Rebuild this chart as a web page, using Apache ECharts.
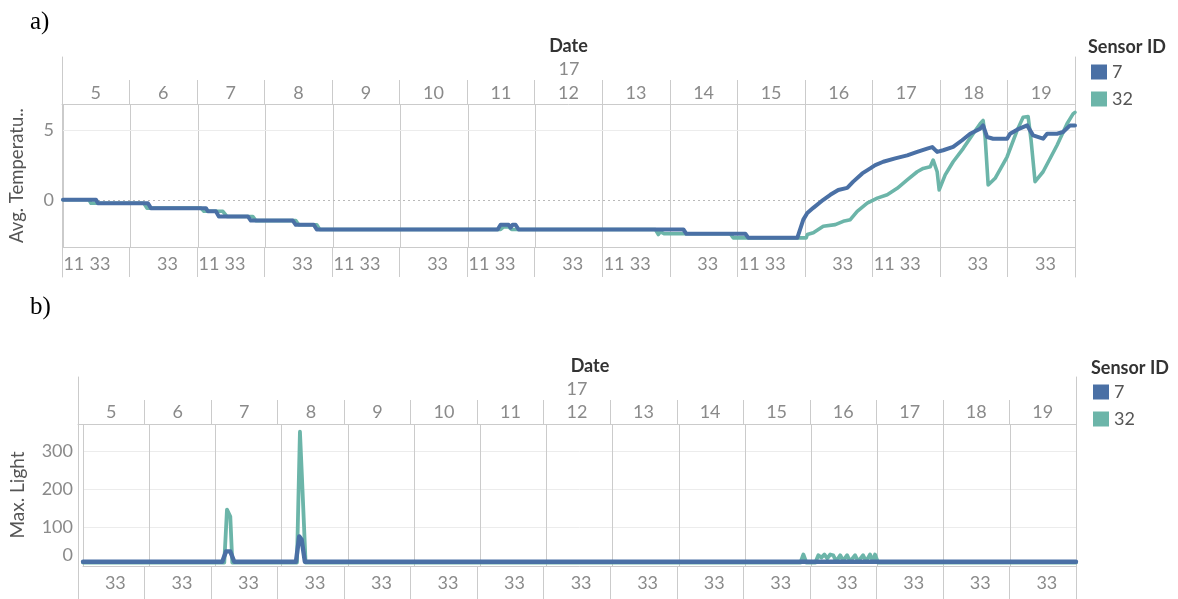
<!DOCTYPE html>
<html>
<head>
<meta charset="utf-8">
<title>Sensor 7 vs 32</title>
<script src="https://cdn.jsdelivr.net/npm/echarts@6/dist/echarts.min.js"></script>
<style>
  html, body { margin: 0; padding: 0; background: #ffffff; }
  #chart { width: 1178px; height: 599px; }
</style>
</head>
<body>
<div id="chart"></div>
<script>
// ---- data -------------------------------------------------------------
const dayLabels = ['5', '6', '7', '8', '9', '10', '11', '12', '13', '14', '15', '16', '17', '18', '19'];
const sensorIds = ['7', '32'];

// x = day position (day N spans N .. N+1)
const tempSensor7 = [
  [5.000, 0], [5.489, 0], [5.518, -0.25], [6.259, -0.25], [6.303, -0.6], [7.118, -0.6],
  [7.147, -0.83], [7.266, -0.83], [7.310, -1.2], [7.740, -1.2], [7.784, -1.5], [8.406, -1.5],
  [8.450, -1.8], [8.717, -1.8], [8.761, -2.14], [11.442, -2.14], [11.486, -1.8], [11.605, -1.8],
  [11.634, -2.0], [11.664, -1.8], [11.708, -1.8], [11.753, -2.14], [14.196, -2.14], [14.240, -2.45],
  [15.114, -2.45], [15.158, -2.74], [15.884, -2.74], [15.973, -1.43], [16.032, -0.95], [16.121, -0.58],
  [16.269, 0], [16.373, 0.36], [16.491, 0.71], [16.624, 0.86], [16.713, 1.31], [16.847, 1.9],
  [16.965, 2.26], [17.039, 2.5], [17.158, 2.74], [17.335, 2.98], [17.513, 3.2], [17.661, 3.45],
  [17.809, 3.69], [17.883, 3.8], [17.957, 3.45], [18.046, 3.57], [18.194, 3.81], [18.327, 4.29],
  [18.446, 4.76], [18.594, 5.12], [18.638, 5.36], [18.698, 4.52], [18.786, 4.4], [18.994, 4.4],
  [19.038, 4.76], [19.142, 5.05], [19.290, 5.36], [19.379, 4.64], [19.527, 4.4], [19.586, 4.76],
  [19.734, 4.76], [19.823, 4.88], [19.927, 5.36], [20.000, 5.36]
];
const tempSensor32 = [
  [5.000, 0], [5.385, 0], [5.415, -0.25], [6.199, -0.25], [6.244, -0.6], [7.044, -0.6],
  [7.088, -0.83], [7.369, -0.83], [7.429, -1.2], [7.814, -1.2], [7.858, -1.5], [8.450, -1.5],
  [8.495, -1.8], [8.761, -1.8], [8.806, -2.14], [11.486, -2.14], [11.530, -1.95], [11.605, -1.95],
  [11.649, -2.14], [13.781, -2.14], [13.825, -2.5], [13.855, -2.3], [13.915, -2.45], [14.892, -2.45],
  [14.936, -2.74], [16.017, -2.74], [16.032, -2.5], [16.121, -2.38], [16.269, -1.9], [16.447, -1.79],
  [16.565, -1.55], [16.669, -1.43], [16.772, -0.83], [16.920, -0.24], [17.069, 0.12], [17.217, 0.36],
  [17.365, 0.83], [17.513, 1.43], [17.661, 2.02], [17.750, 2.26], [17.854, 2.38], [17.898, 2.86],
  [17.957, 2.02], [17.987, 0.71], [18.076, 1.79], [18.194, 2.74], [18.342, 3.69], [18.490, 4.76],
  [18.594, 5.48], [18.638, 5.71], [18.668, 4.52], [18.713, 1.07], [18.816, 1.55], [18.994, 3.1],
  [19.142, 5.0], [19.231, 5.95], [19.305, 6.0], [19.349, 4.29], [19.408, 1.31], [19.527, 2.02],
  [19.734, 3.93], [19.882, 5.48], [19.971, 6.19], [20.000, 6.3]
];

const lightSensor7 = [
  [5.000, 11], [7.104, 11], [7.160, 38], [7.225, 38], [7.285, 11], [8.217, 11],
  [8.266, 77], [8.302, 69], [8.352, 11], [20.000, 11]
];
const lightSensor32 = [
  [5.000, 9], [7.134, 9], [7.175, 147], [7.225, 129], [7.255, 9], [8.232, 9],
  [8.277, 350], [8.307, 233], [8.362, 9], [15.837, 9], [15.882, 30], [15.927, 9],
  [16.063, 9], [16.108, 28], [16.153, 22], [16.198, 30], [16.243, 20], [16.288, 30],
  [16.333, 28], [16.378, 12], [16.438, 28], [16.483, 14], [16.543, 28], [16.588, 12],
  [16.663, 28], [16.709, 12], [16.784, 28], [16.829, 12], [16.889, 30], [16.934, 12],
  [16.964, 30], [17.009, 9], [20.000, 9]
];

// value-axis tick labels
const tempTicks = [0, 5];
const lightTicks = [0, 100, 200, 300];

// minute-axis labels shown under each day pane
const innerAxisExtent = [1, 58];
const tempInnerLabelDays = {
  '11': [5, 7, 9, 11, 13, 15, 17],
  '33': [5, 6, 7, 8, 9, 10, 11, 12, 13, 14, 15, 16, 17, 18, 19]
};
const lightInnerLabelDays = {
  '33': [5, 6, 7, 8, 9, 10, 11, 12, 13, 14, 15, 16, 17, 18, 19]
};

// ---- helpers -----------------------------------------------------------
function innerLabels(daysByLabel) {
  const span = innerAxisExtent[1] - innerAxisExtent[0];
  const values = [];
  const text = {};
  Object.keys(daysByLabel).forEach(function (lbl) {
    daysByLabel[lbl].forEach(function (d) {
      const v = d + (Number(lbl) - innerAxisExtent[0]) / span;
      values.push(v);
      text[v.toFixed(4)] = lbl;
    });
  });
  values.sort(function (a, b) { return a - b; });
  return { values: values, text: text };
}
const tempInner = innerLabels(tempInnerLabelDays);
const lightInner = innerLabels(lightInnerLabelDays);

const FONT = 'Lato, "Noto Sans", sans-serif';
const SEP = '#cbcbcb';
const GRID_FAINT = '#ececec';
const NUM = '#8a8a8a';
const BLUE = '#4a70a5';
const TEAL = '#6cb5a9';
const firstDay = 5, lastDay = 20;

function frameAxes(gi) {
  return [
    { gridIndex: gi, type: 'value', min: 0, max: 1, position: 'left', axisLine: { show: true, lineStyle: { color: SEP } },
      axisTick: { show: false }, axisLabel: { show: false }, splitLine: { show: false } },
    { gridIndex: gi, type: 'value', min: 0, max: 1, position: 'right', axisLine: { show: true, lineStyle: { color: SEP } },
      axisTick: { show: false }, axisLabel: { show: false }, splitLine: { show: false } }
  ];
}
function hiddenX(gi) {
  return { gridIndex: gi, type: 'value', min: 0, max: 1, show: false };
}
function hiddenY(gi) {
  return { gridIndex: gi, type: 'value', min: 0, max: 1, show: false };
}
function headerX(gi, margin) {
  return {
    gridIndex: gi, type: 'category', data: dayLabels, boundaryGap: true, position: 'bottom',
    axisLine: { show: true, lineStyle: { color: SEP } },
    axisTick: { show: false },
    splitLine: { show: true, interval: 0, lineStyle: { color: SEP } },
    axisLabel: { inside: true, interval: 0, margin: margin, verticalAlign: 'middle', color: NUM, fontSize: 18, fontFamily: FONT }
  };
}
function plotX(gi) {
  return {
    gridIndex: gi, type: 'value', min: firstDay, max: lastDay, interval: 1,
    axisLine: { show: true, onZero: false, lineStyle: { color: SEP } },
    axisTick: { show: false }, axisLabel: { show: false },
    splitLine: { show: true, lineStyle: { color: SEP } }
  };
}
function bottomX(gi, inner, margin) {
  return {
    gridIndex: gi, type: 'value', min: firstDay, max: lastDay, interval: 1, position: 'top',
    axisLine: { show: false }, axisTick: { show: false },
    splitLine: { show: true, lineStyle: { color: SEP } },
    axisLabel: {
      inside: true, margin: margin, verticalAlign: 'middle', customValues: inner.values,
      showMinLabel: true, showMaxLabel: true,
      color: NUM, fontSize: 18, fontFamily: FONT,
      formatter: function (v) { return inner.text[Number(v).toFixed(4)] || ''; }
    }
  };
}

const option = {
  animation: false,
  backgroundColor: '#ffffff',
  grid: [
    { left: 62, top: 57, width: 1013, height: 220 },   // 0 frame a
    { left: 62, top: 80, width: 1013, height: 24 },    // 1 header a
    { left: 62, top: 104, width: 1013, height: 143 },  // 2 plot a
    { left: 62, top: 247, width: 1013, height: 30 },   // 3 minute labels a
    { left: 78, top: 377, width: 998, height: 240 },   // 4 frame b
    { left: 78, top: 400, width: 998, height: 24 },    // 5 header b
    { left: 78, top: 424, width: 998, height: 142 },   // 6 plot b
    { left: 78, top: 566, width: 998, height: 40 }     // 7 minute labels b
  ],
  xAxis: [
    hiddenX(0), headerX(1, 11), plotX(2), bottomX(3, tempInner, 17),
    hiddenX(4), headerX(5, 12), plotX(6), bottomX(7, lightInner, 17)
  ],
  yAxis: [].concat(
    frameAxes(0),
    [hiddenY(1)],
    [{
      gridIndex: 2, type: 'value', min: -3.4, max: 6.9,
      axisLine: { show: false }, axisTick: { show: false }, splitLine: { show: false },
      axisLabel: { customValues: tempTicks, margin: 9, color: NUM, fontSize: 18, fontFamily: FONT },
      name: 'Avg. Temperatu..', nameLocation: 'middle', nameRotate: 90, nameGap: 36,
      nameTextStyle: { color: '#555', fontSize: 18.5, fontFamily: FONT }
    }],
    [hiddenY(3)],
    frameAxes(4),
    [hiddenY(5)],
    [{
      gridIndex: 6, type: 'value', min: 0, max: 370, interval: 100,
      axisLine: { show: false }, axisTick: { show: false },
      splitLine: { show: true, lineStyle: { color: GRID_FAINT } },
      axisLabel: {
        margin: 10, color: NUM, fontSize: 18, fontFamily: FONT,
        formatter: function (v) {
          if (lightTicks.indexOf(v) < 0) return '';
          return v === 0 ? '{z|0}' : String(v);
        },
        rich: { z: { color: NUM, fontSize: 18, fontFamily: FONT, padding: [0, 0, 22, 0] } }
      },
      name: 'Max. Light', nameLocation: 'middle', nameRotate: 90, nameGap: 56,
      nameTextStyle: { color: '#555', fontSize: 19, fontFamily: FONT }
    }],
    [hiddenY(7)]
  ),
  legend: [
    { data: sensorIds, left: 1091, top: 63, orient: 'vertical', icon: 'rect', itemWidth: 16, itemHeight: 15,
      itemGap: 9, padding: 0, selectedMode: false, textStyle: { color: '#555', fontSize: 18, fontFamily: FONT } },
    { data: sensorIds, left: 1093, top: 383, orient: 'vertical', icon: 'rect', itemWidth: 16, itemHeight: 15,
      itemGap: 9, padding: 0, selectedMode: false, textStyle: { color: '#555', fontSize: 18, fontFamily: FONT } }
  ],
  graphic: [
    { type: 'text', x: 30, y: 22, style: { text: 'a)', fill: '#000', fontSize: 25, fontFamily: '"Liberation Serif", serif', verticalAlign: 'middle' } },
    { type: 'text', x: 30, y: 307, style: { text: 'b)', fill: '#000', fontSize: 25, fontFamily: '"Liberation Serif", serif', verticalAlign: 'middle' } },
    { type: 'text', x: 568.5, y: 46, style: { text: 'Date', fill: '#333', fontSize: 18, fontWeight: 'bold', fontFamily: FONT, align: 'center', verticalAlign: 'middle' } },
    { type: 'text', x: 569, y: 69, style: { text: '17', fill: NUM, fontSize: 18, fontFamily: FONT, align: 'center', verticalAlign: 'middle' } },
    { type: 'text', x: 590, y: 366, style: { text: 'Date', fill: '#333', fontSize: 18, fontWeight: 'bold', fontFamily: FONT, align: 'center', verticalAlign: 'middle' } },
    { type: 'text', x: 577, y: 389, style: { text: '17', fill: NUM, fontSize: 18, fontFamily: FONT, align: 'center', verticalAlign: 'middle' } },
    { type: 'text', x: 1088, y: 47, style: { text: 'Sensor ID', fill: '#333', fontSize: 18, fontWeight: 'bold', fontFamily: FONT, verticalAlign: 'middle' } },
    { type: 'text', x: 1091, y: 368, style: { text: 'Sensor ID', fill: '#333', fontSize: 18, fontWeight: 'bold', fontFamily: FONT, verticalAlign: 'middle' } }
  ],
  series: [
    {
      name: '32', type: 'line', xAxisIndex: 2, yAxisIndex: 3, data: tempSensor32, z: 3,
      showSymbol: false, color: TEAL, itemStyle: { color: TEAL },
      lineStyle: { color: TEAL, width: 3.6, join: 'round', cap: 'round' },
      markLine: {
        z: 1, silent: true, symbol: 'none', label: { show: false }, animation: false,
        data: [
          { yAxis: 0, lineStyle: { color: '#b9b9b9', type: [2, 3], width: 1 } },
          { yAxis: 5, lineStyle: { color: GRID_FAINT, type: 'solid', width: 1 } }
        ]
      }
    },
    {
      name: '7', type: 'line', xAxisIndex: 2, yAxisIndex: 3, data: tempSensor7, z: 4,
      showSymbol: false, color: BLUE, itemStyle: { color: BLUE },
      lineStyle: { color: BLUE, width: 4, join: 'round', cap: 'round' }
    },
    {
      name: '32', type: 'line', xAxisIndex: 6, yAxisIndex: 8, data: lightSensor32, z: 3,
      showSymbol: false, color: TEAL, itemStyle: { color: TEAL },
      lineStyle: { color: TEAL, width: 3.8, join: 'round', cap: 'round' }
    },
    {
      name: '7', type: 'line', xAxisIndex: 6, yAxisIndex: 8, data: lightSensor7, z: 4,
      showSymbol: false, color: BLUE, itemStyle: { color: BLUE },
      lineStyle: { color: BLUE, width: 4.4, join: 'round', cap: 'round' }
    }
  ]
};

const chart = echarts.init(document.getElementById('chart'), null, { renderer: 'canvas' });
chart.setOption(option);
</script>
</body>
</html>
